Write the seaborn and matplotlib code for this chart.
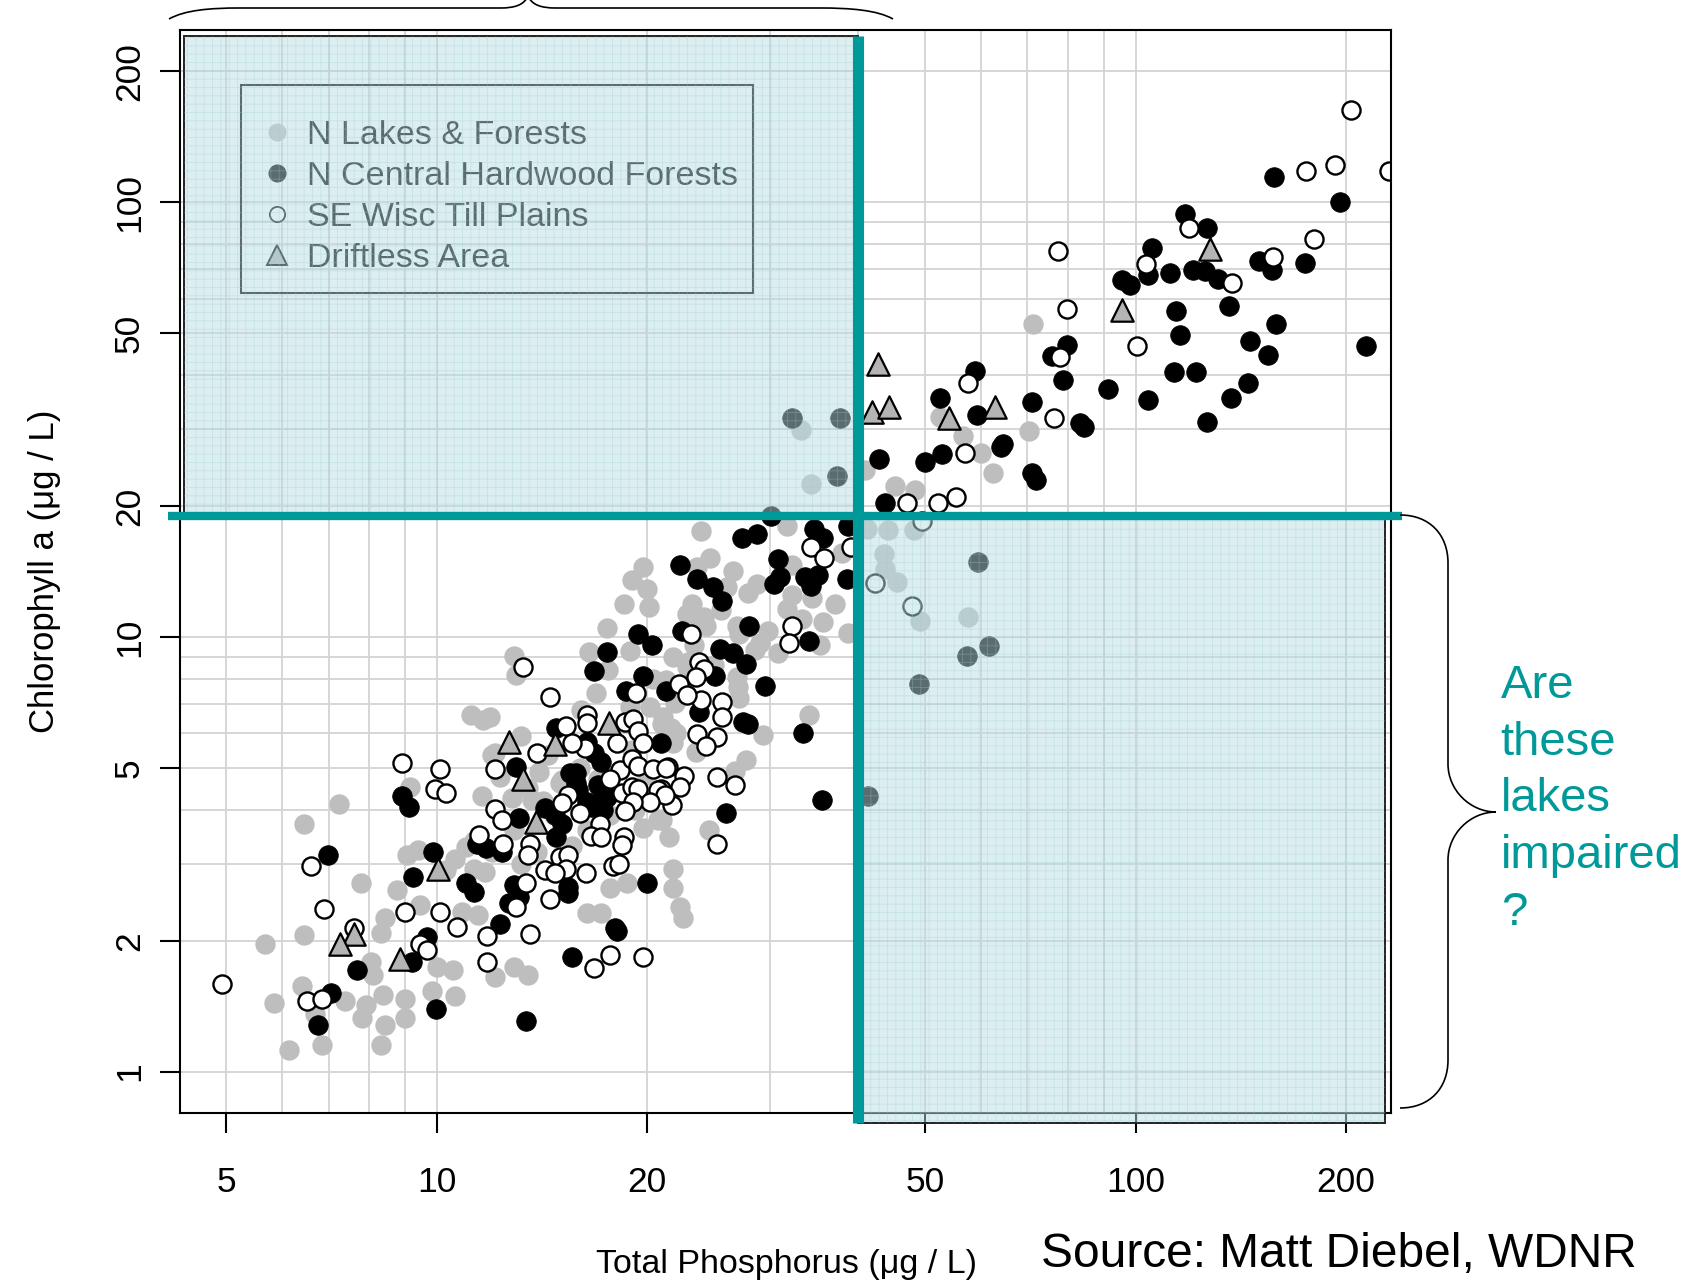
import numpy as np
import pandas as pd
import matplotlib
matplotlib.use("Agg")
import matplotlib.pyplot as plt
import seaborn as sns
from matplotlib.patches import Rectangle, PathPatch
from matplotlib.path import Path
from matplotlib.lines import Line2D
from matplotlib.ticker import NullFormatter

# ---------------- data (Total phosphorus, Chlorophyll a) ----------------
nlf_tp = [71.4, 56.6, 60, 70.3, 62.4, 52.4, 48.4, 45.2, 41,
          33.2, 34.3,
          41.3, 44.2, 48.2, 43.6, 43.8, 45.5, 49.2, 57.6,
          23.9, 24.6, 23.6, 26.5, 23.2, 24.1, 23.0, 27.9, 28.7, 32.2, 31.7, 32.2, 33.3, 35.7, 37.1, 34.4,
          38.8, 26.9, 27.1, 29.8, 29.0, 28.5, 30.8, 35.3, 22.9, 23.0, 24.9, 26.9, 27.0, 27.1, 21.3, 38.0, 31.7,
          19.7, 20.0, 18.5, 20.1, 16.5, 12.9, 13.0, 16.9, 11.2, 11.9, 11.65, 12.1, 21.1, 21.9, 22.8, 22.8, 18.9,
          34.1, 29.3, 27.7, 26.7, 24.5, 21.5, 21.8, 21.8, 22.3, 22.5, 21.0, 21.6, 21.8, 23.5,
          12.0, 12.3, 12.8, 13.7, 11.0, 10.6, 11.7, 11.3, 13.2, 13.9, 10.85, 11.45, 17.7, 18.7, 16.4, 17.2,
          19.7, 20.7, 15.1, 14.0, 14.4, 11.3, 10.3,
          7.25, 6.46, 7.79, 9.05, 8.76, 8.43, 8.32, 9.46, 5.68, 6.46, 6.41, 5.85, 7.39, 7.93, 8.38, 9.0, 9.0,
          8.43, 7.81, 8.32, 6.84, 6.15, 6.69, 9.15, 9.4, 8.04, 10.0, 9.83, 10.55, 10.6, 8.11,
          12.1, 13.5, 12.9,
          13.5, 14.2, 15.0, 16.0, 17.0, 14.7, 16.4, 15.6, 17.7, 19.2, 20.0, 19.0, 21.0, 20.2, 22.0, 17.6,
          18.9, 20.4, 21.8, 23.3, 24.3, 12.9, 12.0, 11.6, 13.2, 16.1, 25.5, 26.0, 19.0, 17.5]
nlf_chl = [52.4, 28.9, 26.5, 29.7, 23.8, 32.0, 21.8, 22.2, 24.2,
           29.9, 22.5,
           17.7, 17.6, 17.6, 15.5, 14.3, 13.4, 10.9, 11.1,
           17.5, 15.2, 14.5, 14.2, 11.9, 11.1, 10.9, 12.6, 13.2, 14.6, 11.6, 12.5, 11.0, 10.8, 11.9, 12.3,
           10.2, 10.6, 10.15, 10.3, 9.66, 9.32, 9.17, 9.58, 8.77, 8.31, 8.61, 8.09, 7.68, 7.22, 7.95, 15.6, 18.0,
           14.5, 12.9, 11.9, 11.7, 9.24, 9.05, 8.17, 7.41, 6.61, 6.55, 6.44, 5.40, 6.55, 7.03, 8.54, 11.3, 6.90,
           6.61, 5.95, 5.21, 4.92, 3.59, 3.46, 2.93, 2.64, 2.39, 2.25, 3.79, 6.16, 5.69, 5.44,
           5.35, 4.77, 4.25, 4.21, 3.28, 3.09, 2.88, 2.93, 3.0, 3.20, 2.33, 2.29, 2.64, 2.72, 2.31, 2.31,
           3.63, 3.80, 4.68, 4.89, 5.35, 3.40, 2.91,
           4.12, 3.71, 2.71, 3.15, 2.62, 2.25, 2.08, 2.42, 1.97, 2.06, 1.57, 1.44, 1.45, 1.42, 1.50, 1.47, 1.33,
           1.28, 1.33, 1.15, 1.15, 1.12, 1.36, 4.52, 3.23, 1.79, 1.74, 1.53, 1.71, 1.49, 1.67,
           1.65, 1.67, 1.74,
           4.5, 4.2, 4.6, 5.0, 4.7, 3.9, 3.6, 3.3, 3.9, 4.0, 4.8, 5.5, 6.3, 6.9, 6.0, 8.4,
           9.3, 8.0, 9.0, 9.6, 10.6, 3.6, 3.2, 4.3, 5.9, 6.8, 11.5, 13.0, 13.5, 10.5]

nchf_tp = [157.8, 196, 117.5, 126.3, 105.4, 95.5, 98.1, 104, 111.8, 120.9, 125.6, 131, 149.9, 156.5, 174.8,
           135.8, 114.2, 158.9, 115.9, 145.9, 154.8, 213.8, 79.7, 75.8, 78.6, 113.6, 122.1, 144.8, 136.8, 104,
           91.4, 126.5, 71.0, 83.3, 84.3, 59.3, 58.9, 52.5, 64.6, 64.1, 52.9, 49.9, 42.9, 43.8, 71, 72.1,
           32.2, 37.7, 37.4, 30.1, 59.4, 61.6, 57.3, 48.9, 41.4,
           27.3, 28.7, 34.6, 35.7, 38.8, 22.3, 23.6, 24.8, 25.6, 30.8, 31.0, 30.4, 33.6, 35.1, 34.3, 38.6,
           28.0, 22.4, 25.4, 26.5, 27.7, 34.1, 25.0, 29.5, 21.3,
           19.4, 20.3, 17.5, 16.8, 19.7, 18.65, 14.8, 20.9, 16.4,
           23.7, 27.4, 27.9, 33.4, 35.6, 25.9,
           13.0, 15.5, 15.8, 15.9, 16.8, 17.2, 17.3, 16.4, 16.65, 17.3, 14.3, 13.1, 15.1, 14.8, 11.4, 11.75,
           12.4, 9.88, 11.0, 11.3, 12.9, 13.1, 12.7, 15.4, 15.4, 20.0, 12.3, 18.0, 18.1, 17.5, 17.0, 15.8, 14.75,
           6.99, 8.92, 9.13, 9.25, 7.68, 9.2, 9.67, 7.05, 6.77, 9.97,
           13.4, 15.6]
nchf_chl = [114.2, 100.2, 93.8, 87.1, 78.6, 66.2, 64.3, 67.8, 68.6, 69.8, 69.4, 66.7, 73.2, 69.8, 72.4,
            57.6, 56.2, 52.4, 49.4, 47.9, 44.6, 46.7, 46.8, 44.2, 38.9, 40.7, 40.7, 38.4, 35.4, 35.0,
            37.1, 31.2, 34.6, 31.1, 30.4, 32.4, 40.8, 35.4, 27.8, 27.4, 26.4, 25.2, 25.6, 20.3, 23.8, 23.0,
            31.8, 31.8, 23.4, 19.0, 14.9, 9.55, 9.03, 7.78, 4.30,
            16.9, 17.2, 17.7, 16.9, 18.0, 14.6, 13.6, 13.0, 12.1, 15.1, 13.7, 13.2, 13.7, 13.9, 13.1, 13.6,
            10.6, 10.3, 9.36, 9.17, 8.64, 9.80, 8.13, 7.70, 7.50,
            10.15, 9.58, 9.24, 8.34, 8.14, 7.50, 6.16, 5.69, 5.74,
            6.73, 6.38, 6.30, 6.02, 4.21, 3.93,
            5.02, 4.85, 4.85, 4.44, 5.40, 5.16, 4.37, 4.18, 4.07, 4.0, 4.03, 3.84, 3.72, 3.47, 3.34, 3.26,
            3.20, 3.20, 2.71, 2.59, 2.69, 2.52, 2.44, 2.57, 2.66, 2.71, 2.18, 2.14, 2.10, 4.29, 4.56, 4.60, 3.89,
            3.15, 4.30, 4.07, 2.81, 1.71, 1.79, 2.04, 1.52, 1.28, 1.39,
            1.31, 1.83]

sewt_tp = [203, 230, 193, 175, 180, 157, 137.5, 119.3, 103.3, 77.4, 79.8, 100.5, 78, 57.6, 76.3, 56.9, 55.3,
           52.1, 47.1,
           49.5, 42.3, 47.8,
           34.3, 35.8, 39.2, 23.1, 32.2, 31.9, 23.7, 24.1, 23.5, 23.9, 25.6,
           13.3, 14.5, 19.3, 22.2, 22.8, 16.4, 16.4, 15.3, 18.6, 19.1, 19.4, 19.7, 18.1, 16.3, 15.6, 13.9,
           25.6, 23.6, 25.2, 24.3, 21.4, 22.6, 22.3, 20.96, 21.7, 25.2, 26.7, 25.2,
           10.1, 9.94, 10.3, 12.1, 18.3, 19.0, 19.4, 20.4, 21.3, 17.7, 18.4, 19.0, 19.4, 20.7, 21.2, 20.2, 19.1,
           18.6, 15.4, 15.1, 16.0, 17.1, 16.6, 17.2, 18.5, 18.4, 12.1, 12.4, 11.5, 12.45, 13.6, 13.5, 15.0,
           15.4, 15.3, 14.3, 14.75, 16.35, 17.85, 18.2, 13.4, 14.5, 13.0, 10.1, 10.7, 11.8, 13.6,
           8.92, 6.60, 6.89, 9.0, 7.61, 9.46, 9.67, 4.92, 6.51, 6.84,
           11.8, 16.8, 17.7, 19.7]
sewt_chl = [163, 118, 122, 118, 82.3, 74.6, 65.3, 87.1, 71.9, 77.0, 56.9, 46.7, 44.1, 38.4, 31.9, 26.5, 21.0,
            20.3, 20.3,
            18.5, 13.3, 11.8,
            16.1, 15.2, 16.1, 10.15, 10.6, 9.69, 8.77, 8.42, 8.09, 7.15, 7.09,
            8.54, 7.26, 7.41, 7.79, 7.35, 6.61, 6.32, 6.25, 6.38, 6.46, 6.07, 5.69, 5.69, 5.56, 5.69, 5.40,
            6.53, 5.98, 5.89, 5.61, 5.01, 4.78, 4.51, 4.47, 4.10, 4.77, 4.56, 3.34,
            4.96, 4.46, 4.37, 4.96, 4.94, 5.23, 5.04, 4.96, 4.99, 4.70, 4.37, 4.52, 4.46, 4.44, 4.33, 4.18, 4.18,
            3.98, 4.33, 4.14, 3.93, 3.71, 3.48, 3.46, 3.46, 3.32, 4.01, 3.79, 3.50, 3.34, 3.34, 3.15, 3.12,
            3.15, 2.93, 2.91, 2.86, 2.87, 2.97, 3.0, 2.72, 2.50, 2.39, 2.33, 2.15, 2.05, 2.07,
            5.12, 2.97, 2.36, 2.33, 2.14, 1.97, 1.90, 1.59, 1.45, 1.47,
            1.79, 1.73, 1.85, 1.83]

drift_tp = [127.8, 95.5, 42.8, 42.0, 44.4, 54.0, 62.8, 12.7, 17.65, 14.76, 13.3, 13.85, 10.05, 7.61, 7.27, 8.87]
drift_chl = [77.8, 56.5, 42.5, 32.9, 33.7, 31.9, 33.7, 5.74, 6.35, 5.66, 4.71, 3.76, 2.93, 2.07, 1.97, 1.82]

legend_labels = ["N Lakes & Forests", "N Central Hardwood Forests", "SE Wisc Till Plains", "Driftless Area"]
x_ticks = [5, 10, 20, 50, 100, 200]
y_ticks = [1, 2, 5, 10, 20, 50, 100, 200]
x_grid = [5, 6, 7, 8, 9, 10, 20, 30, 40, 50, 60, 70, 80, 90, 100, 200]
y_grid = [1, 2, 3, 4, 5, 6, 7, 8, 9, 10, 20, 30, 40, 50, 60, 70, 80, 90, 100, 200]
tp_threshold = 40
chl_threshold = 19

# ---------------- style ----------------
sns.set_theme(style="white")
plt.rcParams['font.family'] = ['Liberation Sans', 'DejaVu Sans']
plt.rcParams['hatch.linewidth'] = 0.6

W, H = 1704, 1285
AX_L, AX_R, AX_T, AX_B = 180, 1391, 30, 1113
fig = plt.figure(figsize=(W / 100, H / 100), dpi=100)
fig.patch.set_facecolor('white')
ax = fig.add_axes([AX_L / W, 1 - AX_B / H, (AX_R - AX_L) / W, (AX_B - AX_T) / H])
ax.set_facecolor('white')


def ax_frac(px, py):
    return (px - AX_L) / (AX_R - AX_L), (AX_B - py) / (AX_B - AX_T)


TEAL = '#009999'

groups = [
    (nlf_tp, nlf_chl, dict(color='#bebebe', edgecolor='#bebebe', linewidth=0, s=215, marker='o'), 2.0),
    (nchf_tp, nchf_chl, dict(color='black', edgecolor='black', linewidth=0.5, s=200, marker='o'), 2.1),
    (sewt_tp, sewt_chl, dict(color='white', edgecolor='black', linewidth=1.7, s=170, marker='o'), 2.2),
    (drift_tp, drift_chl, dict(color='#b4b4b4', edgecolor='black', linewidth=1.6, s=260, marker='^'), 2.3),
]
for tp, chl, kw, z in groups:
    df = pd.DataFrame({'tp': tp, 'chl': chl})
    sns.scatterplot(data=df, x='tp', y='chl', ax=ax, legend=False, zorder=z, **kw)

ax.set_xscale('log')
ax.set_yscale('log')
ax.set_xlim(4.29, 231.9)
ax.set_ylim(0.803, 248.8)

ax.set_xticks(x_grid, minor=True)
ax.set_yticks(y_grid, minor=True)
ax.set_xticks(x_ticks, labels=[str(v) for v in x_ticks])
ax.set_yticks(y_ticks, labels=[str(v) for v in y_ticks])
ax.xaxis.set_minor_formatter(NullFormatter())
ax.yaxis.set_minor_formatter(NullFormatter())
ax.grid(which='both', color='#d3d3d3', linewidth=1.3)
ax.set_axisbelow(True)
ax.tick_params(which='minor', length=0, bottom=False, left=False)
ax.tick_params(which='major', bottom=True, left=True, length=14.5, width=1.5, color='black',
               labelsize=25.5, labelcolor='black')
ax.tick_params(axis='x', pad=24)
ax.tick_params(axis='y', pad=10, labelrotation=90)
for lab in ax.get_yticklabels():
    lab.set_va('center')
for sp in ax.spines.values():
    sp.set_color('black')
    sp.set_linewidth(1.5)

ax.set_xlabel('Total Phosphorus (μg / L)', fontsize=24.5, color='black')
ax.xaxis.set_label_coords(*ax_frac(787, 1265))
ax.xaxis.label.set_va('center')
ax.set_ylabel('Chlorophyll a (μg / L)', fontsize=25, color='black')
ax.yaxis.set_label_coords(*ax_frac(44, 571))
ax.yaxis.label.set_va('center')

# legend (drawn beneath the translucent overlay)
handles = [
    Line2D([], [], ls='', marker='o', markersize=12, markerfacecolor='#bebebe', markeredgecolor='#bebebe'),
    Line2D([], [], ls='', marker='o', markersize=12, markerfacecolor='black', markeredgecolor='black'),
    Line2D([], [], ls='', marker='o', markersize=11, markerfacecolor='white', markeredgecolor='black',
           markeredgewidth=1.3),
    Line2D([], [], ls='', marker='^', markersize=15, markerfacecolor='#b4b4b4', markeredgecolor='black',
           markeredgewidth=1.4),
]
leg = ax.legend(handles, legend_labels, loc='upper left',
                bbox_to_anchor=ax_frac(241, 94),
                fontsize=24.5, frameon=False, borderpad=0.75, handlelength=0.6,
                handletextpad=0.6, labelspacing=0.3, borderaxespad=0)
for t in leg.get_texts():
    t.set_color('black')
leg.set_zorder(3)
bx0, by0 = ax_frac(241, 293)
bx1, by1 = ax_frac(753, 85)
ax.add_patch(Rectangle((bx0, by0), bx1 - bx0, by1 - by0, transform=ax.transAxes, facecolor='none',
                       edgecolor='black', linewidth=1.5, zorder=3))

# translucent shaded quadrants
ov = (185 / 255, 222 / 255, 226 / 255, 0.49)
hatch_c = (150 / 255, 205 / 255, 212 / 255, 0.35)
quads = [((4.35, chl_threshold), (tp_threshold, 241)),
         ((tp_threshold, 0.761), (227.5, chl_threshold))]
for (x0, y0), (x1, y1) in quads:
    ax.add_patch(Rectangle((x0, y0), x1 - x0, y1 - y0, facecolor=ov, edgecolor='#222222', linewidth=1.4,
                           zorder=6, clip_on=False))
    ax.add_patch(Rectangle((x0, y0), x1 - x0, y1 - y0, facecolor='none', edgecolor=hatch_c, linewidth=0,
                           hatch='++', zorder=6.5, clip_on=False))

# threshold lines
ax.plot([4.12, 240.4], [chl_threshold, chl_threshold], color=TEAL, lw=6, clip_on=False, zorder=10,
        solid_capstyle='butt')
ax.plot([tp_threshold, tp_threshold], [0.761, 241], color=TEAL, lw=8, clip_on=False, zorder=10,
        solid_capstyle='butt')


# braces (figure pixel coordinates)
def brace(verts_codes, lw=1.2):
    verts = [(x / W, 1 - y / H) for x, y in verts_codes[0]]
    p = PathPatch(Path(verts, verts_codes[1]), fill=False, edgecolor='black', lw=lw,
                  transform=fig.transFigure)
    fig.add_artist(p)


M, C, L = Path.MOVETO, Path.CURVE4, Path.LINETO
top_v = [(169, 19), (185, 10), (210, 8), (240, 8), (500, 8), (515, 8), (524, 5), (528, -4),
         (532, 5), (541, 8), (556, 8), (820, 8), (850, 8), (877, 10), (893, 19)]
top_c = [M, C, C, C, L, C, C, C, C, C, C, L, C, C, C]
brace((top_v, top_c))
right_v = [(1400, 515), (1430, 515), (1448, 535), (1448, 563), (1448, 764), (1448, 790), (1470, 812),
           (1496, 812), (1470, 812), (1448, 834), (1448, 860), (1448, 1060), (1448, 1088), (1430, 1108),
           (1400, 1108)]
right_c = [M, C, C, C, L, C, C, C, C, C, C, L, C, C, C]
brace((right_v, right_c))

# annotation texts
for i, line in enumerate(['Are', 'these', 'lakes', 'impaired', '?']):
    fig.text(1500.7 / W, 1 - (698 + 56.7 * i) / H, line, color=TEAL, fontsize=34, va='baseline',
             ha='left')
fig.text(1041 / W, 1 - 1267 / H, 'Source: Matt Diebel, WDNR', fontsize=34.5, va='baseline', ha='left',
         color='black')

fig.savefig('out.png', dpi=100)
